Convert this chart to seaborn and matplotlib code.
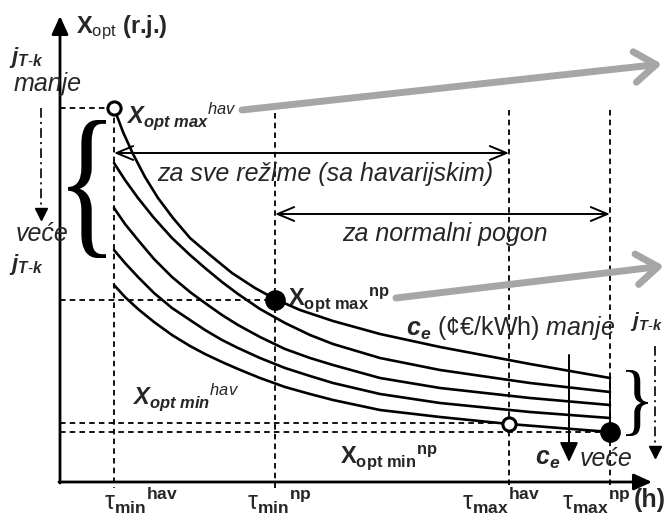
import matplotlib
matplotlib.use("Agg")
import matplotlib.pyplot as plt
import pandas as pd
import seaborn as sns
from matplotlib.font_manager import FontProperties
from matplotlib.patches import PathPatch
from matplotlib.textpath import TextPath
from matplotlib.transforms import Affine2D

# schematic drawn in a pixel-like frame: x to the right, y downward
AXIS_X0 = 60
AXIS_Y0 = 482

# tau positions on the time axis
TAU_X = [114, 275, 509, 610]
TAU_LABEL_X = [104, 247, 462, 562]
TAU_LABELS = [
    r"$\mathrm{\tau}_{\mathbf{min}}{}^{\mathbf{hav}}$",
    r"$\mathrm{\tau}_{\mathbf{min}}{}^{\mathbf{np}}$",
    r"$\mathrm{\tau}_{\mathbf{max}}{}^{\mathbf{hav}}$",
    r"$\mathrm{\tau}_{\mathbf{max}}{}^{\mathbf{np}}$",
]
TAU_TOP = [108, 113, 110, 110]

# X_opt levels: max hav, max np, min hav, min np
X_LEVELS = [108, 300, 423, 432]
X_LEVEL_END = [114, 275, 509, 610]

# family of curves (one per c_e / j_T-k value)
CURVE1_X = [114, 123, 133, 145, 158, 173, 190, 210, 232, 255, 275, 300, 333, 380, 440, 530, 610]
CURVE1_Y = [108, 132, 154, 177, 198, 218, 238, 255, 273, 288, 299, 310, 321, 334, 347, 364, 378]
CURVE_X = [114, 125, 138, 154, 172, 190, 205, 222, 238, 260, 285, 310, 333, 380, 440, 530, 610]
CURVE2_Y = [163, 180, 198, 218, 238, 255, 268, 282, 294, 309, 323, 335, 344, 358, 370, 383, 392]
CURVE3_Y = [208, 224, 240, 259, 277, 292, 303, 315, 325, 337, 349, 358, 365, 378, 388, 398, 405]
CURVE4_Y = [250, 263, 277, 293, 308, 320, 330, 340, 348, 358, 368, 376, 383, 394, 403, 412, 418]
CURVE5_X = [114, 125, 138, 154, 172, 190, 205, 222, 238, 260, 285, 310, 333, 380, 440, 509, 610]
CURVE5_Y = [285, 297, 309, 322, 335, 346, 354, 362, 369, 378, 387, 394, 400, 410, 417, 424, 432]

# characteristic points
OPEN_PTS_X = [114, 509]
OPEN_PTS_Y = [108, 424]
FILLED_PTS_X = [275, 610]
FILLED_PTS_Y = [300, 432]

JTK = r"$\mathbfit{j}_{\mathbfit{T}\text{-}\mathbfit{k}}$"

sns.set_theme(style="white")
plt.rcParams.update({
    "font.family": ["Liberation Sans", "DejaVu Sans"],
    "mathtext.fontset": "custom",
    "mathtext.rm": "Liberation Sans",
    "mathtext.it": "Liberation Sans:italic",
    "mathtext.bf": "Liberation Sans:bold",
    "mathtext.bfit": "Liberation Sans:italic:bold",
    "mathtext.sf": "Liberation Sans",
    "lines.scale_dashes": False,
})

fig = plt.figure(figsize=(6.66, 5.16), dpi=100)
ax = fig.add_axes([0, 0, 1, 1])
ax.set_xlim(0, 666)
ax.set_ylim(516, 0)
ax.axis("off")

# dashed guide lines
for x, top in zip(TAU_X, TAU_TOP):
    ax.plot([x, x], [top, AXIS_Y0 + 6], color="black", lw=1.3, dashes=(4, 3))
for y, x_end in zip(X_LEVELS, X_LEVEL_END):
    ax.plot([AXIS_X0, x_end], [y, y], color="black", lw=1.3, dashes=(4, 3))

# curves
curves = pd.concat([
    pd.DataFrame({"x": CURVE1_X, "y": CURVE1_Y, "curve": 1}),
    pd.DataFrame({"x": CURVE_X, "y": CURVE2_Y, "curve": 2}),
    pd.DataFrame({"x": CURVE_X, "y": CURVE3_Y, "curve": 3}),
    pd.DataFrame({"x": CURVE_X, "y": CURVE4_Y, "curve": 4}),
    pd.DataFrame({"x": CURVE5_X, "y": CURVE5_Y, "curve": 5}),
])
sns.lineplot(data=curves, x="x", y="y", units="curve", estimator=None,
             sort=False, color="black", lw=1.9, ax=ax)
ax.plot([610, 610], [378, 432], color="black", lw=1.3)

# axes with arrows
axis_arrow = dict(arrowstyle="-|>,head_length=0.55,head_width=0.25",
                  mutation_scale=20, lw=2, color="black", shrinkA=0, shrinkB=0)
ax.annotate("", xy=(AXIS_X0, 16), xytext=(AXIS_X0, AXIS_Y0 + 1), arrowprops=axis_arrow)
ax.annotate("", xy=(652, AXIS_Y0), xytext=(AXIS_X0 - 1, AXIS_Y0), arrowprops=axis_arrow)

# markers
sns.scatterplot(x=FILLED_PTS_X, y=FILLED_PTS_Y, s=190, color="black",
                edgecolor="black", zorder=5, ax=ax)
sns.scatterplot(x=OPEN_PTS_X, y=OPEN_PTS_Y, s=90, facecolor="white",
                edgecolor="black", linewidth=2.2, zorder=5, ax=ax)

# range arrows
range_arrow = dict(arrowstyle="<->,head_length=0.6,head_width=0.25",
                   mutation_scale=20, lw=1.4, color="black", shrinkA=0, shrinkB=0)
ax.annotate("", xy=(509, 153), xytext=(114, 153), arrowprops=range_arrow)
ax.annotate("", xy=(610, 214), xytext=(275, 214), arrowprops=range_arrow)
ax.text(325, 181, "za sve režime (sa havarijskim)", fontsize=18, style="italic",
        ha="center", va="baseline")
ax.text(445, 241, "za normalni pogon", fontsize=18, style="italic",
        ha="center", va="baseline")

# grey trend arrows
grey_arrow = dict(arrowstyle="->,head_length=0.7,head_width=0.5", mutation_scale=22,
                  lw=5, color="#a6a6a6", shrinkA=0, shrinkB=0)
ax.annotate("", xy=(662, 64), xytext=(242, 110), arrowprops=grey_arrow)
ax.annotate("", xy=(664, 266), xytext=(396, 298), arrowprops=grey_arrow)

# dash-dot direction arrows
for x, y0, y1 in [(41, 108, 214), (655, 346, 452)]:
    ax.plot([x, x], [y0, y1], color="black", lw=1.2, linestyle=(0, (7, 3, 1.5, 3)))
    ax.plot([x], [y1], marker="v", markersize=9, color="black")
ax.annotate("", xy=(569, 462), xytext=(569, 355),
            arrowprops=dict(arrowstyle="-|>,head_length=0.6,head_width=0.28",
                            mutation_scale=20, lw=1.4, color="black",
                            shrinkA=0, shrinkB=0))


def brace(char, x0, x1, y0, y1):
    path = TextPath((0, 0), char, size=1, prop=FontProperties(family="Liberation Serif"))
    ext = path.get_extents()
    tr = (Affine2D().translate(-ext.x0, -ext.y0)
          .scale((x1 - x0) / ext.width, -(y1 - y0) / ext.height)
          .translate(x0, y1))
    ax.add_patch(PathPatch(tr.transform_path(path), color="black", lw=0))


brace("{", 68, 106, 120, 258)
brace("}", 626, 648, 370, 436)

# labels
ax.text(76, 33, r"$\mathbf{X}_{\mathrm{opt}}$ (r.j.)", fontsize=17,
        fontweight="bold", va="baseline")
ax.text(9, 63, JTK, fontsize=16, va="baseline")
ax.text(14, 91, "manje", fontsize=18, style="italic", va="baseline")
ax.text(16, 241, "veće", fontsize=18, style="italic", va="baseline")
ax.text(9, 270, JTK, fontsize=16, va="baseline")
ax.text(126, 124, r"$\mathbfit{X}_{\mathbfit{opt\ max}}{}^{\mathit{hav}}$",
        fontsize=17, va="baseline")
ax.text(288, 305, r"$\mathbf{X}_{\mathbf{opt\ max}}{}^{\mathbf{np}}$",
        fontsize=17, va="baseline")
ax.text(132, 405, r"$\mathbfit{X}_{\mathbfit{opt\ min}}{}^{\mathit{hav}}$",
        fontsize=17, va="baseline")
ax.text(340, 463, r"$\mathbf{X}_{\mathbf{opt\ min}}{}^{\mathbf{np}}$",
        fontsize=17, va="baseline")
ax.text(406, 335, r"$\mathbfit{c}_{\mathbfit{e}}$ (¢€/kWh) $\mathit{manje}$",
        fontsize=18, va="baseline")
ax.text(535, 465, r"$\mathbfit{c}_{\mathbfit{e}}$", fontsize=18, va="baseline")
ax.text(580, 466, "veće", fontsize=18, style="italic", va="baseline")
ax.text(630, 327, JTK, fontsize=15, va="baseline")

for x, label in zip(TAU_LABEL_X, TAU_LABELS):
    ax.text(x, 510, label, fontsize=18, va="baseline")
ax.text(634, 507, "(h)", fontsize=18, fontweight="bold", va="baseline")

fig.savefig("out.png", dpi=100)
